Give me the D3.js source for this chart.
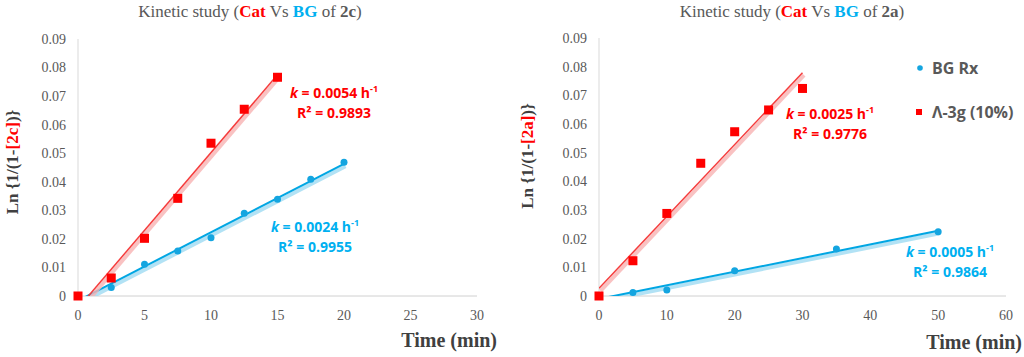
<!DOCTYPE html>
<html><head><meta charset="utf-8">
<script src="https://cdn.jsdelivr.net/npm/d3@7"></script>
<style>
html,body{margin:0;padding:0;background:#fff;}
svg{display:block;}
</style></head>
<body>
<svg id="c" width="1024" height="357"></svg>
<script>
// ---- data ----
const xTicksLeft = [0,5,10,15,20,25,30];
const xTicksRight = [0,10,20,30,40,50,60];
const yTicks = [0,0.01,0.02,0.03,0.04,0.05,0.06,0.07,0.08,0.09];

const left_cat_time = [0,2.5,5,7.5,10,12.5,15];
const left_cat_val  = [0,0.0063,0.0202,0.0342,0.0535,0.0654,0.0766];
const left_bg_time  = [0,2.5,5,7.5,10,12.5,15,17.5,20];
const left_bg_val   = [0,0.0030,0.0111,0.0158,0.0204,0.0290,0.0339,0.0409,0.0468];

const right_cat_time = [0,5,10,15,20,25,30];
const right_cat_val  = [0,0.0123,0.0288,0.0463,0.0573,0.0649,0.0724];
const right_bg_time  = [0,5,10,20,35,50];
const right_bg_val   = [0,0.0012,0.0021,0.0088,0.0164,0.0224];

const left_cat_label  = ["0.0054","0.9893"];
const left_bg_label   = ["0.0024","0.9955"];
const right_cat_label = ["0.0025","0.9776"];
const right_bg_label  = ["0.0005","0.9864"];

const legendLabels = ["BG Rx","Λ-3g (10%)"];

const RED = "#ff0000", BLUE = "#00b0f0", DOT = "#14a5e0", GRAY = "#595959", DARK="#404040";

function fit(xs, ys){
  const n=xs.length, mx=d3.mean(xs), my=d3.mean(ys);
  let sxy=0,sxx=0;
  for(let i=0;i<n;i++){sxy+=(xs[i]-mx)*(ys[i]-my);sxx+=(xs[i]-mx)**2;}
  const b=sxy/sxx; return {b, a:my-b*mx};
}

const svg = d3.select("#c");
svg.append("rect").attr("width",1024).attr("height",357).attr("fill","#fff");

function chart(o){
  const g = svg.append("g");
  const x = d3.scaleLinear().domain([o.xTicks[0], o.xTicks[o.xTicks.length-1]]).range([o.x0,o.x1]);
  const y = d3.scaleLinear().domain([0,0.09]).range([o.y0,o.y1]);

  // axes lines
  g.append("line").attr("x1",o.x0).attr("x2",o.x0).attr("y1",o.y1).attr("y2",o.y0).attr("stroke","#d9d9d9").attr("stroke-width",1);
  g.append("line").attr("x1",o.x0).attr("x2",o.x1).attr("y1",o.y0).attr("y2",o.y0).attr("stroke","#d0d0d0").attr("stroke-width",1);

  // tick labels
  g.selectAll(".yt").data(yTicks).join("text")
    .attr("x",o.x0-12).attr("y",d=>y(d)).attr("dy","0.35em").attr("text-anchor","end")
    .attr("font-family","Liberation Serif").attr("font-size",14).attr("fill",GRAY)
    .text(d=>d===0?"0":d3.format(".2f")(d));
  g.selectAll(".xt").data(o.xTicks).join("text")
    .attr("x",d=>x(d)).attr("y",o.y0+24).attr("text-anchor","middle")
    .attr("font-family","Liberation Serif").attr("font-size",14).attr("fill",GRAY)
    .text(d=>d);

  // title
  const t = g.append("text").attr("x",o.tx).attr("y",17).attr("text-anchor","middle")
    .attr("font-family","Liberation Serif").attr("font-size",17).attr("fill",GRAY);
  t.append("tspan").text("Kinetic study (");
  t.append("tspan").text("Cat").attr("fill",RED).attr("font-weight","bold");
  t.append("tspan").text(" Vs ");
  t.append("tspan").text("BG").attr("fill",BLUE).attr("font-weight","bold");
  t.append("tspan").text(" of ");
  t.append("tspan").text(o.cmp).attr("font-weight","bold");
  t.append("tspan").text(")");

  // axis titles
  g.append("text").attr("x",o.xtEnd).attr("y",o.xtY).attr("text-anchor","end")
    .attr("font-family","Liberation Serif").attr("font-size",20).attr("font-weight","bold").attr("fill",DARK)
    .text("Time (min)");
  const yl = g.append("text").attr("transform",`translate(${o.ylx},${o.yly}) rotate(-90)`).attr("text-anchor","middle")
    .attr("font-family","Liberation Serif").attr("font-size",17).attr("font-weight","bold").attr("fill",DARK);
  yl.append("tspan").text("Ln {1/(1-");
  yl.append("tspan").text("["+o.cmp+"]").attr("fill",RED);
  yl.append("tspan").text(")}");

  // clip
  const cid = "clip"+o.cmp;
  svg.append("clipPath").attr("id",cid).append("rect")
    .attr("x",o.x0).attr("y",o.y1-10).attr("width",o.x1-o.x0+10).attr("height",o.y0-o.y1+10);

  // trendlines
  function trend(xs, ys, col, shadow, w){
    const f = fit(xs,ys);
    const xa = d3.min(xs), xb = d3.max(xs);
    const lg = g.append("g").attr("clip-path",`url(#${cid})`);
    lg.append("line").attr("x1",x(xa)+1.5).attr("x2",x(xb)+1.5).attr("y1",y(f.a+f.b*xa)+2.5).attr("y2",y(f.a+f.b*xb)+2.5)
      .attr("stroke",shadow).attr("stroke-width",4).attr("opacity",0.8);
    lg.append("line").attr("x1",x(xa)).attr("x2",x(xb)).attr("y1",y(f.a+f.b*xa)).attr("y2",y(f.a+f.b*xb))
      .attr("stroke",col).attr("stroke-width",w);
  }
  trend(o.bgX,o.bgY,"#00a6e3","#9fdcf3",2);
  trend(o.catX,o.catY,"#f53c3c","#f8b4b4",1.5);

  // markers
  g.selectAll(".bg").data(o.bgX.map((d,i)=>[d,o.bgY[i]])).join("circle")
    .attr("cx",d=>x(d[0])).attr("cy",d=>y(d[1])).attr("r",3.5).attr("fill",DOT);
  g.selectAll(".cat").data(o.catX.map((d,i)=>[d,o.catY[i]])).join("rect")
    .attr("x",d=>x(d[0])-4.5).attr("y",d=>y(d[1])-4.5).attr("width",9).attr("height",9).attr("fill",RED);

  // labels
  function lab(cx, cy, vals, col){
    const a = g.append("text").attr("x",cx).attr("y",cy).attr("text-anchor","middle")
      .attr("font-family","Open Sans").attr("font-weight","bold").attr("font-size",14).attr("fill",col);
    a.append("tspan").text("k").attr("font-style","italic");
    a.append("tspan").text(" = "+vals[0]+" h");
    a.append("tspan").text("-1").attr("font-size",9).attr("dy",-6);
    g.append("text").attr("x",cx).attr("y",cy+20).attr("text-anchor","middle")
      .attr("font-family","Open Sans").attr("font-weight","bold").attr("font-size",14).attr("fill",col)
      .text("R² = "+vals[1]);
  }
  lab(o.catL[0],o.catL[1],o.catLab,RED);
  lab(o.bgL[0],o.bgL[1],o.bgLab,BLUE);
}

chart({x0:78,x1:477,y0:296,y1:39,xTicks:xTicksLeft,tx:250,cmp:"2c",xtEnd:497,xtY:347,ylx:18,yly:162,
  catX:left_cat_time,catY:left_cat_val,bgX:left_bg_time,bgY:left_bg_val,
  catLab:left_cat_label,bgLab:left_bg_label,catL:[334,98],bgL:[315,232]});
chart({x0:599,x1:1006,y0:296,y1:38,xTicks:xTicksRight,tx:792,cmp:"2a",xtEnd:1022,xtY:349,ylx:533,yly:156,
  catX:right_cat_time,catY:right_cat_val,bgX:right_bg_time,bgY:right_bg_val,
  catLab:right_cat_label,bgLab:right_bg_label,catL:[830,119],bgL:[950,257]});

// legend
const lg = svg.append("g");
lg.append("circle").attr("cx",920).attr("cy",68).attr("r",2.8).attr("fill",DOT);
lg.append("rect").attr("x",916).attr("y",109).attr("width",6).attr("height",6).attr("fill",RED);
lg.selectAll(".lt").data(legendLabels).join("text")
  .attr("x",932).attr("y",(d,i)=>74+i*44)
  .attr("font-family","Open Sans").attr("font-weight","bold").attr("font-size",16).attr("fill",GRAY)
  .text(d=>d);
</script>
</body></html>
